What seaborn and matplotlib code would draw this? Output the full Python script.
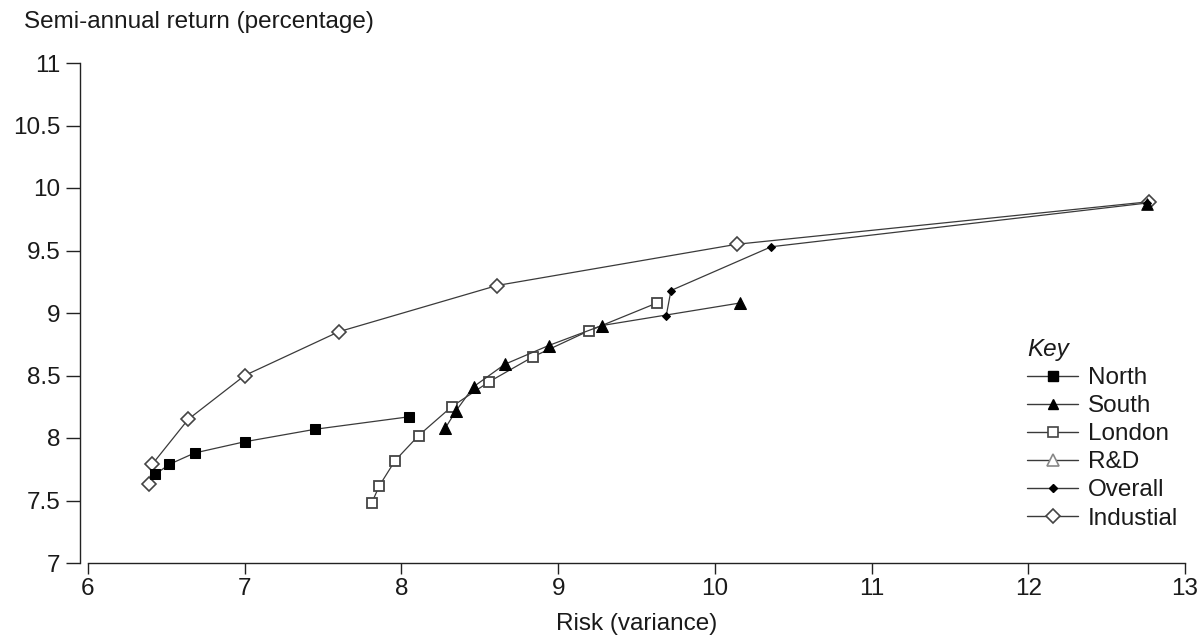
import matplotlib
matplotlib.use("Agg")
import matplotlib.pyplot as plt
from matplotlib.lines import Line2D
import seaborn as sns

# ---- data ----
north_x = [6.43, 6.52, 6.68, 7.00, 7.45, 8.05]
north_y = [7.71, 7.79, 7.88, 7.97, 8.07, 8.17]

south_x = [8.28, 8.35, 8.46, 8.66, 8.94, 9.28, 10.16]
south_y = [8.08, 8.22, 8.41, 8.59, 8.74, 8.90, 9.08]

london_x = [7.81, 7.86, 7.96, 8.11, 8.32, 8.56, 8.84, 9.20, 9.63]
london_y = [7.48, 7.62, 7.82, 8.02, 8.25, 8.45, 8.65, 8.86, 9.08]

rd_x = [12.76]
rd_y = [9.87]

overall_x = [9.69, 9.72, 10.36, 12.76]
overall_y = [8.98, 9.18, 9.53, 9.88]

industrial_x = [6.39, 6.41, 6.64, 7.00, 7.60, 8.61, 10.14, 12.77]
industrial_y = [7.63, 7.79, 8.15, 8.50, 8.85, 9.22, 9.55, 9.89]

x_ticks = [6, 7, 8, 9, 10, 11, 12, 13]
y_ticks = [7, 7.5, 8, 8.5, 9, 9.5, 10, 10.5, 11]
y_tick_labels = ["7", "7.5", "8", "8.5", "9", "9.5", "10", "10.5", "11"]
legend_labels = ["North", "South", "London", "R&D", "Overall", "Industial"]

sns.set_theme(style="ticks")
plt.rcParams["font.family"] = ["Liberation Sans", "DejaVu Sans"]
FS = 17.5
TXT = "#1a1a1a"
LC = "#3a3a3a"

fig = plt.figure(figsize=(12.02, 6.37), dpi=100)
W, H = 1202, 637
ax = fig.add_axes([88 / W, 1 - 563 / H, (1185 - 88) / W, (563 - 63) / H])

common = dict(ax=ax, sort=False, estimator=None, color=LC, linewidth=0.9)

sns.lineplot(x=industrial_x, y=industrial_y, marker="D", markersize=7.5,
             markerfacecolor="white", markeredgecolor="#444444", markeredgewidth=1.2,
             zorder=3, **common)
sns.lineplot(x=north_x, y=north_y, marker="s", markersize=7.5,
             markerfacecolor="black", markeredgecolor="black", zorder=3, **common)
sns.lineplot(x=london_x, y=london_y, marker="s", markersize=7.5,
             markerfacecolor="white", markeredgecolor="#444444", markeredgewidth=1.3,
             zorder=4, **common)
sns.lineplot(x=south_x, y=south_y, marker="^", markersize=8.5,
             markerfacecolor="black", markeredgecolor="black", zorder=5, **common)
sns.lineplot(x=overall_x, y=overall_y, marker="D", markersize=4.5,
             markerfacecolor="black", markeredgecolor="black", zorder=5, **common)
sns.scatterplot(x=rd_x, y=rd_y, ax=ax, marker="^", s=70, color="black",
                edgecolor="black", zorder=6)

ax.set_xlim(6, 13)
ax.set_ylim(7, 11)
ax.set_xticks(x_ticks)
ax.set_xticklabels([str(t) for t in x_ticks])
ax.set_yticks(y_ticks)
ax.set_yticklabels(y_tick_labels)
ax.set_xlabel("")
ax.set_ylabel("")

for s in ["top", "right"]:
    ax.spines[s].set_visible(False)
ax.spines["left"].set_position(("outward", 6))
for s in ["left", "bottom"]:
    ax.spines[s].set_linewidth(1.0)
    ax.spines[s].set_color("#222222")

ax.tick_params(axis="y", length=10, width=1.0, pad=4, labelsize=FS,
               colors="#222222", labelcolor=TXT)
ax.tick_params(axis="x", length=8, width=1.0, pad=3, labelsize=FS,
               colors="#222222", labelcolor=TXT)

fig.text(24 / W, 1 - 22 / H, "Semi-annual return (percentage)", fontsize=FS,
         color=TXT, ha="left", va="center")
fig.text(0.5 * (88 + 1185) / W, 1 - 624 / H, "Risk (variance)", fontsize=FS,
         color=TXT, ha="center", va="center")

handles = [
    Line2D([], [], color=LC, lw=1.0, marker="s", markersize=7.5,
           markerfacecolor="black", markeredgecolor="black"),
    Line2D([], [], color=LC, lw=1.0, marker="^", markersize=7.5,
           markerfacecolor="black", markeredgecolor="black"),
    Line2D([], [], color=LC, lw=1.0, marker="s", markersize=7.5,
           markerfacecolor="white", markeredgecolor="#444444", markeredgewidth=1.2),
    Line2D([], [], color=LC, lw=1.0, marker="^", markersize=8,
           markerfacecolor="white", markeredgecolor="#888888", markeredgewidth=1.2),
    Line2D([], [], color=LC, lw=1.0, marker="D", markersize=4.5,
           markerfacecolor="black", markeredgecolor="black"),
    Line2D([], [], color=LC, lw=1.0, marker="D", markersize=7,
           markerfacecolor="white", markeredgecolor="#444444", markeredgewidth=1.2),
]
leg = ax.legend(handles, legend_labels, loc="upper left",
                bbox_to_anchor=(1010 / W, 1 - 321 / H), bbox_transform=fig.transFigure,
                frameon=False, fontsize=FS, handlelength=2.1, handletextpad=0.4,
                labelspacing=0.25, borderpad=0.2, title="Key",
                title_fontproperties={"size": FS, "style": "italic"}, alignment="left")
for t in leg.get_texts():
    t.set_color(TXT)
leg.get_title().set_color(TXT)

fig.savefig("out.png", dpi=100)
